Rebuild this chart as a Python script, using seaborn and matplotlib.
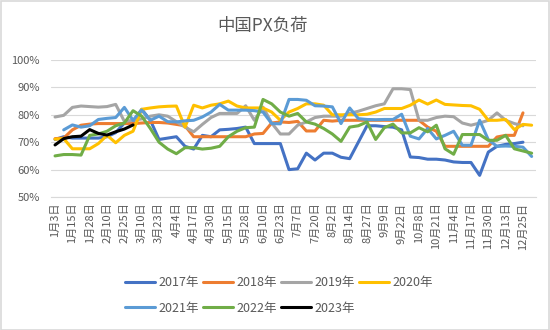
import numpy as np
import pandas as pd
import matplotlib
matplotlib.use("Agg")
import matplotlib.pyplot as plt
from matplotlib.patches import Rectangle
import seaborn as sns

N = None
tick_labels = ["1月3日", "1月15日", "1月28日", "2月10日", "2月25日", "3月10日", "3月23日",
               "4月4日", "4月17日", "4月30日", "5月15日", "5月28日", "6月10日", "6月23日",
               "7月7日", "7月20日", "8月2日", "8月14日", "8月27日", "9月9日", "9月22日",
               "10月8日", "10月21日", "11月4日", "11月17日", "11月30日", "12月13日", "12月25日"]

y2017 = [71.0, 72.0, 71.5, 71.5, 71.5, 71.5, 72.0, 73.5, 77.0, 77.5,
         82.0, 78.0, 71.0, 71.5, 72.0, 68.5, 67.5, 72.5, 72.0, 74.5,
         74.7, 75.0, 75.5, 69.5, 69.5, 69.5, 69.5, 60.0, 60.3, 66.0,
         63.5, 66.0, 66.0, 64.5, 64.0, 70.0, 76.0, 76.0, 75.7, 75.5,
         74.5, 64.6, 64.4, 63.8, 63.8, 63.5, 62.8, 62.6, 62.6, 57.9,
         66.4, 68.5, 69.2, 69.5, 70.0, N]
y2018 = [71.3, 71.5, 74.5, 76.2, 76.6, 76.8, 76.8, 76.8, 76.8, 76.8,
         77.0, 77.2, 77.2, 77.0, 76.5, 76.0, 72.0, 72.0, 72.0, 72.0,
         72.0, 72.0, 72.0, 73.0, 73.2, 77.0, 77.4, 77.2, 77.6, 74.1,
         74.1, 78.0, 77.7, 78.0, 78.0, 78.0, 78.0, 78.0, 78.0, 78.0,
         78.0, 78.0, 78.0, 75.5, 74.0, 68.5, 68.5, 68.5, 68.5, 68.5,
         68.5, 71.9, 72.5, 72.5, 80.7, N]
y2019 = [79.2, 79.8, 82.7, 83.2, 83.0, 82.8, 83.0, 83.8, 77.6, 78.0,
         78.5, 79.5, 80.0, 79.5, 77.5, 75.5, 73.8, 76.5, 79.0, 80.5,
         80.5, 80.5, 83.3, 78.0, 82.8, 77.0, 73.0, 73.0, 76.2, 77.4,
         79.0, 79.5, 79.5, 79.5, 80.5, 81.3, 82.3, 83.3, 84.0, 89.5,
         89.5, 89.2, 78.0, 78.0, 79.0, 79.5, 79.3, 77.0, 76.2, 77.0,
         78.0, 80.7, 78.0, 76.8, 76.0, N]
y2020 = [71.1, 71.3, 67.6, 67.6, 67.6, 69.5, 72.5, 69.8, 72.5, 74.0,
         82.0, 82.5, 82.9, 83.1, 83.2, 75.5, 83.5, 82.5, 83.5, 84.0,
         85.0, 83.2, 82.5, 82.5, 82.5, 81.0, 78.0, 81.0, 82.3, 84.0,
         84.0, 83.5, 80.0, 80.0, 80.0, 80.0, 80.2, 81.0, 82.3, 82.3,
         82.3, 83.5, 85.4, 83.9, 85.4, 83.8, 83.6, 83.4, 83.3, 82.0,
         78.0, 78.0, 78.3, 74.6, 76.5, 76.2]
y2021 = [N, 74.5, 76.3, 75.5, 76.0, 78.3, 78.7, 79.0, 82.7, 78.0,
         81.7, 78.0, 79.5, 77.5, 77.4, 77.8, 78.0, 79.2, 81.0, 83.8,
         81.7, 81.7, 81.7, 81.5, 81.0, 76.8, 76.7, 85.6, 85.6, 85.3,
         83.3, 83.2, 82.9, 76.8, 82.5, 78.6, 78.3, 78.2, 78.3, 78.3,
         80.2, 72.2, 71.2, 75.0, 71.2, 72.5, 74.0, 68.9, 68.9, 78.0,
         70.9, 68.5, 68.6, 68.5, 68.2, 64.8]
y2022 = [65.0, 65.5, 65.5, 65.3, 72.5, 73.0, 74.0, 76.0, 77.0, 81.5,
         79.5, 75.0, 70.0, 67.5, 65.8, 68.0, 68.0, 67.5, 67.8, 68.5,
         72.0, 74.0, 75.3, 75.5, 85.6, 84.0, 81.0, 79.5, 80.5, 77.4,
         76.6, 75.0, 73.0, 70.3, 75.5, 76.0, 77.4, 71.0, 75.3, 76.6,
         73.4, 73.4, 75.3, 73.8, 76.2, 67.6, 65.6, 72.8, 72.8, 72.8,
         70.7, 70.7, 72.5, 67.6, 66.8, 66.0]
y2023 = [69.0, 71.3, 72.0, 72.2, 74.6, 73.2, 72.6, 73.8, 74.8, 76.3]

series = {"2017年": y2017, "2018年": y2018, "2019年": y2019, "2020年": y2020,
          "2021年": y2021, "2022年": y2022, "2023年": y2023}
colors = {"2017年": "#4472C4", "2018年": "#ED7D31", "2019年": "#A5A5A5",
          "2020年": "#FFC000", "2021年": "#5B9BD5", "2022年": "#70AD47",
          "2023年": "#000000"}

rows = []
for name, vals in series.items():
    for i, v in enumerate(vals):
        if v is not None:
            rows.append({"idx": i, "负荷": v, "年份": name})
df = pd.DataFrame(rows)

sns.set_style("white")
plt.rcParams["font.family"] = ["Noto Sans CJK SC", "DejaVu Sans"]

fig = plt.figure(figsize=(5.5, 3.3), dpi=100)
ax = fig.add_axes([0.0922, 0.403, 0.8823, 0.4152])
sns.lineplot(data=df, x="idx", y="负荷", hue="年份", palette=colors,
             estimator=None, sort=False, linewidth=2.2, ax=ax)

ncat = 56
ax.set_xlim(-0.5, ncat - 0.5)
ax.set_ylim(50, 100)
ax.set_yticks(np.arange(50, 101, 10))
ax.set_yticklabels([f"{v}%" for v in range(50, 101, 10)])
ax.set_xticks(np.arange(0, 2 * len(tick_labels), 2))
ax.set_xticklabels(tick_labels, rotation=90)
ax.tick_params(axis="y", length=0, pad=8, labelsize=8, labelcolor="#595959")
ax.tick_params(axis="x", length=0, pad=4, labelsize=8, labelcolor="#595959")
ax.grid(axis="y", color="#D9D9D9", linewidth=0.8)
ax.set_axisbelow(True)
for s in ["top", "right", "left"]:
    ax.spines[s].set_visible(False)
ax.spines["bottom"].set_color("#D9D9D9")
ax.spines["bottom"].set_linewidth(0.8)
ax.set_xlabel("")
ax.set_ylabel("")

handles, labels = ax.get_legend_handles_labels()
hmap = dict(zip(labels, handles))
order = ["2017年", "2021年", "2018年", "2022年", "2019年", "2023年", "2020年"]
ax.legend([hmap[k] for k in order], order, ncol=4, loc="upper left",
          bbox_to_anchor=(0.215, 0.182), bbox_transform=fig.transFigure,
          frameon=False, fontsize=9, handlelength=2.4, handletextpad=0.3,
          columnspacing=0.3, labelspacing=1.0, borderpad=0,
          labelcolor="#595959")

fig.text(0.477, 0.921, "中国PX负荷", ha="center", va="center",
         fontsize=12.5, color="#595959")
fig.patches.append(Rectangle((0.001, 0.001), 0.997, 0.996, transform=fig.transFigure,
                             fill=False, edgecolor="#D9D9D9", linewidth=1.2))

fig.savefig("out.png", dpi=100)
